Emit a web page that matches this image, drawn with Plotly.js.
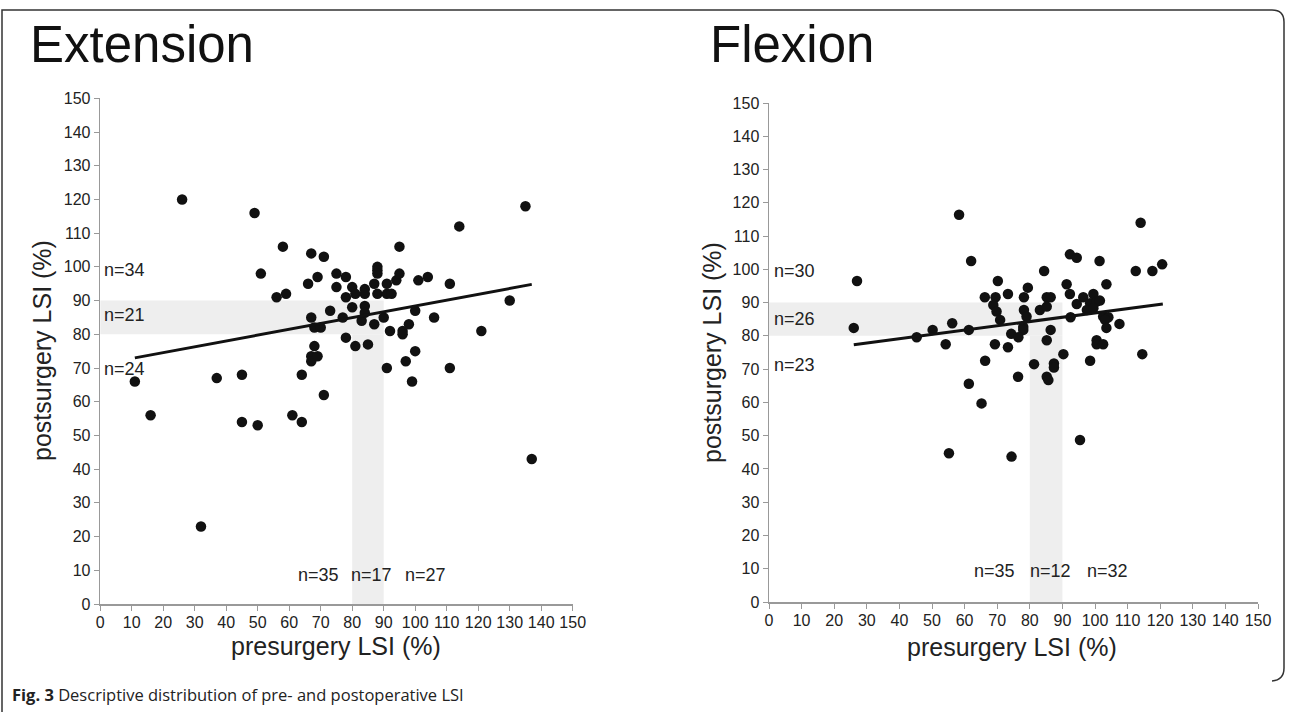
<!DOCTYPE html>
<html>
<head>
<meta charset="utf-8">
<script src="https://cdn.plot.ly/plotly-3.0.1.min.js"></script>
<style>html,body{margin:0;padding:0;background:#fff}#chart{width:1292px;height:712px}</style>
</head>
<body>
<div id="chart"></div>
<script>
// ---- Data ----
const extPre  = [11,16,26,32,37,45,45,49,50,51,56,58,59,61,64,64,66,67,67,67,67,68,68,69,69,70,71,71,73,75,75,77,78,78,78,
                 80,80,81,81,83,84,84,84,84,85,87,87,88,88,88,88,90,
                 91,91,91,92.5,92,94,95,95,96,96,97,98,99,100,100,101,104,106,111,111,114,121,130,135,137];
const extPost = [66,56,120,23,67,68,54,116,53,98,91,106,92,56,54,68,95,104,85,73.5,72,82,76.5,97,73.5,82,103,62,87,98,94,85,97,91,79,
                 94,88,92,76.5,84,93.4,92,88.4,86.4,77,95,83,100,99,98,92,85,
                 95,92,70,92,81,96,106,98,81,80,72,83,66,87,75,96,97,85,95,70,112,81,90,118,43];
const extTrendX = [11,137];
const extTrendY = [73,94.8];

const flexPre  = [27,26,62,84.4,70.2,73.3,79.4,78.2,85.2,66.2,69.5,68.8,69.8,70.9,78.2,83.1,79,85.2,78,78,74.3,76.5,85.2,45.3,50.2,
                  56.2,61.3,54.2,69.3,73.3,66.3,81.3,76.4,85.2,85.7,61.3,65.2,58.3,55.2,74.4,86.4,87.4,87.4,92.3,94.4,101.4,112.5,
                  117.6,120.6,91.3,103.5,92.3,86.4,96.4,99.5,94.4,98.5,100.5,101.5,97.5,99.5,92.5,102.5,104.1,103.1,107.5,103.5,
                  100.5,100.5,102.5,90.3,98.5,95.4,114.5,114];
const flexPost = [96.5,82.4,102.5,99.5,96.5,92.6,94.5,91.6,91.6,91.6,91.6,89.3,87.3,84.8,87.8,87.8,85.8,88.8,82.7,81.8,80.6,79.6,78.7,79.6,81.8,
                  83.8,81.8,77.5,77.5,76.6,72.5,71.5,67.7,67.7,66.7,65.6,59.7,116.4,44.7,43.7,81.8,71.7,70.5,104.5,103.5,102.5,99.5,
                  99.5,101.5,95.5,95.5,92.6,91.6,91.6,92.6,89.6,89.8,90.3,90.6,87.8,88.3,85.6,85.8,85.6,84.8,83.6,82.4,
                  78.7,77.5,77.5,74.5,72.5,48.7,74.5,114];
const flexTrendX = [26,120.8];
const flexTrendY = [77.3,89.6];

const bandLow = 80, bandHigh = 90;
const panelTitles = ["Extension","Flexion"];
const xTitle = "presurgery LSI (%)";
const yTitle = "postsurgery LSI (%)";
const extCountsY = ["n=34","n=21","n=24"], extCountsYPos = [99,85.8,69.7];
const extCountsX = ["n=35","n=17","n=27"], extCountsXPos = [69.2,86,103.4];
const flexCountsY = ["n=30","n=26","n=23"], flexCountsYPos = [99.5,85,71.2];
const flexCountsX = ["n=35","n=12","n=32"], flexCountsXPos = [69.3,86.5,103.9];
const caption = "<b>Fig. 3</b> Descriptive distribution of pre- and postoperative LSI";

// ---- Layout helpers ----
const W = 1292, H = 712;
const px = x => x / W;
const py = y => 1 - y / H;
const FONT = "Liberation Sans, Arial, sans-serif";

const marker = {size: 10.5, color: "#111"};
const traces = [
  {x: extPre, y: extPost, mode: "markers", type: "scatter", marker, xaxis: "x", yaxis: "y", hoverinfo: "none"},
  {x: extTrendX, y: extTrendY, mode: "lines", type: "scatter", line: {color: "#111", width: 3}, xaxis: "x", yaxis: "y", hoverinfo: "none"},
  {x: flexPre, y: flexPost, mode: "markers", type: "scatter", marker, xaxis: "x2", yaxis: "y2", hoverinfo: "none"},
  {x: flexTrendX, y: flexTrendY, mode: "lines", type: "scatter", line: {color: "#111", width: 3}, xaxis: "x2", yaxis: "y2", hoverinfo: "none"}
];

function axis(domain, anchor, isX) {
  const a = {
    domain, anchor, range: [0,150], dtick: 10, tick0: 0,
    ticks: "outside", ticklen: 5, tickwidth: 1, tickcolor: "#999",
    showline: true, linecolor: "#999", linewidth: 1.5,
    showgrid: false, zeroline: false, fixedrange: true,
    tickfont: {family: FONT, size: 16, color: "#222"}
  };
  if (isX) a.ticklabelstandoff = -2;
  return a;
}

function bands(xr, yr) {
  const base = {type: "rect", xref: xr, yref: yr, layer: "below", fillcolor: "#eeeeee", line: {width: 0}};
  return [
    Object.assign({}, base, {x0: 0, x1: bandHigh, y0: bandLow, y1: bandHigh}),
    Object.assign({}, base, {x0: bandLow, x1: bandHigh, y0: 0, y1: bandLow})
  ];
}

// Figure frame (rounded corners on right side)
const fr = 12;
const framePath = "M " + px(2) + "," + py(712) +
  " L " + px(2) + "," + py(10) +
  " L " + px(1284 - fr) + "," + py(10) +
  " Q " + px(1284) + "," + py(10) + " " + px(1284) + "," + py(10 + fr) +
  " L " + px(1284) + "," + py(680 - fr) +
  " Q " + px(1284) + "," + py(680) + " " + px(1284 - fr) + "," + py(681);

const shapes = [...bands("x","y"), ...bands("x2","y2"),
  {type: "path", xref: "paper", yref: "paper", path: framePath, line: {color: "#333", width: 1.5}}];

const ann = [];
const txt = (text, x, y, opts) => ann.push(Object.assign({text, x, y, showarrow: false,
  font: {family: FONT, size: 18, color: "#222"}}, opts));

// Panel titles
txt(panelTitles[0], px(28), py(44), {xref: "paper", yref: "paper", xanchor: "left", yanchor: "middle", font: {family: FONT, size: 51, color: "#111"}});
txt(panelTitles[1], px(708), py(44), {xref: "paper", yref: "paper", xanchor: "left", yanchor: "middle", font: {family: FONT, size: 51, color: "#111"}});
// Axis titles
txt(xTitle, px(336), py(646), {xref: "paper", yref: "paper", xanchor: "center", yanchor: "middle", font: {family: FONT, size: 25, color: "#222"}});
txt(xTitle, px(1012), py(647), {xref: "paper", yref: "paper", xanchor: "center", yanchor: "middle", font: {family: FONT, size: 25, color: "#222"}});
txt(yTitle, px(42), py(351), {xref: "paper", yref: "paper", xanchor: "center", yanchor: "middle", textangle: -90, font: {family: FONT, size: 25, color: "#222"}});
txt(yTitle, px(712), py(353), {xref: "paper", yref: "paper", xanchor: "center", yanchor: "middle", textangle: -90, font: {family: FONT, size: 25, color: "#222"}});
// Count labels
extCountsY.forEach((t,i) => txt(t, 0.6, extCountsYPos[i], {xref: "x", yref: "y", xanchor: "left", yanchor: "middle"}));
extCountsX.forEach((t,i) => txt(t, extCountsXPos[i], 8.6, {xref: "x", yref: "y", xanchor: "center", yanchor: "middle"}));
flexCountsY.forEach((t,i) => txt(t, 0.9, flexCountsYPos[i], {xref: "x2", yref: "y2", xanchor: "left", yanchor: "middle"}));
flexCountsX.forEach((t,i) => txt(t, flexCountsXPos[i], 9.2, {xref: "x2", yref: "y2", xanchor: "center", yanchor: "middle"}));
// Caption
txt(caption, px(10), py(694), {xref: "paper", yref: "paper", xanchor: "left", yanchor: "middle", font: {family: "Open Sans, Noto Sans, sans-serif", size: 16.5, color: "#222"}});

const layout = {
  width: W, height: H, margin: {l: 0, r: 0, t: 0, b: 0},
  paper_bgcolor: "#fff", plot_bgcolor: "rgba(0,0,0,0)", showlegend: false,
  xaxis: axis([px(100.2), px(572.7)], "y", true),
  yaxis: axis([py(604), py(98.3)], "x", false),
  xaxis2: axis([px(769), px(1258)], "y2", true),
  yaxis2: axis([py(602), py(103)], "x2", false),
  shapes, annotations: ann
};

Plotly.newPlot("chart", traces, layout, {staticPlot: true, displayModeBar: false});
</script>
</body>
</html>
